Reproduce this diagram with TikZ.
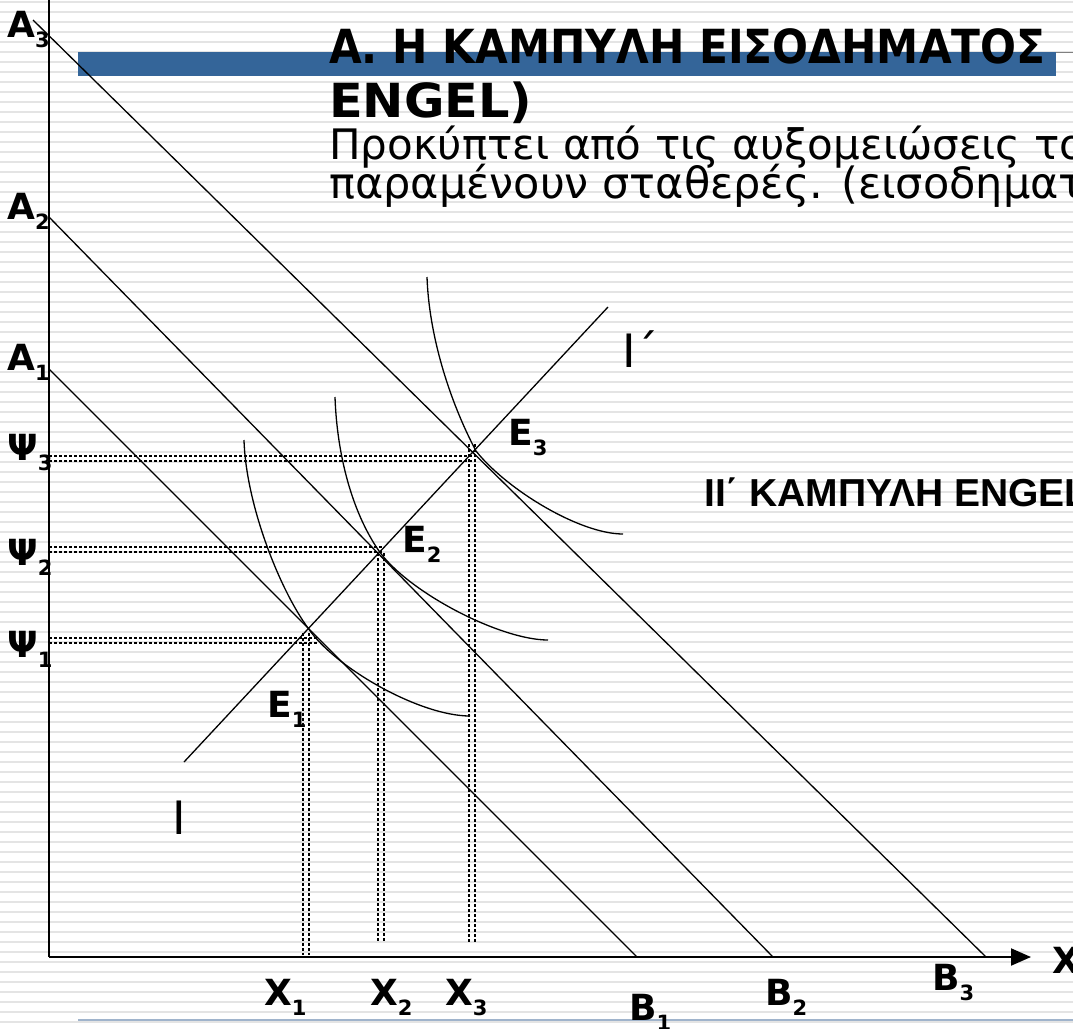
\documentclass[tikz,border=0pt]{standalone}
\usepackage{fontspec}
\setmainfont{DejaVu Sans}
\newfontfamily\arialfont{Liberation Sans}
\usetikzlibrary{arrows.meta}
\definecolor{barblue}{RGB}{52,101,153}
\definecolor{stripegray}{RGB}{228,228,228}
\definecolor{rulecolor}{RGB}{160,180,204}
\newcommand\mysub[1]{{\fontsize{21}{21}\selectfont\raisebox{-10pt}{#1}}}
\tikzset{
  stripe/.style={draw=stripegray,line width=2.2pt},
  axisline/.style={black,line width=2pt},
  budget/.style={black,line width=1.3pt},
  icurve/.style={black,line width=1.3pt},
  dotrow/.style={black,line width=2pt,dash pattern=on 2.5pt off 2.5pt},
  lab/.style={inner sep=0pt,anchor=base west,font=\bfseries\fontsize{36}{36}\selectfont},
  bodytext/.style={inner sep=0pt,anchor=base west,font=\fontsize{42}{42}\selectfont},
  titletext/.style={inner sep=0pt,anchor=base west,font=\bfseries\fontsize{47}{47}\selectfont},
}
\begin{document}
\begin{tikzpicture}[x=1pt,y=-1pt]
\useasboundingbox (0,0) rectangle (1073,1028);
\clip (0,0) rectangle (1073,1028);
\fill[white] (0,0) rectangle (1073,1028);
\foreach \i in {0,...,102} \draw[stripe] (-2,2+10*\i) -- (1075,2+10*\i);

% title bar
\fill[barblue] (78,52) rectangle (1056,76);
\draw[gray,line width=1pt] (1056,52) -- (1080,52);
\node[titletext] (t1) at (329,63) {\scalebox{0.9}[1]{Α. Η ΚΑΜΠΥΛΗ ΕΙΣΟΔΗΜΑΤΟΣ}};
\node[titletext] (t2) at (329,117) {\scalebox{1.05}[1]{ENGEL)}};
\node[bodytext] (b1) at (329,159) {Προκύπτει από τις αυξομειώσεις το};
\node[bodytext,font=\fontsize{43}{43}\selectfont] (b2) at (329,198) {παραμένουν σταθερές. (εισοδηματ};

% bottom line
\draw[draw=rulecolor,line width=2pt] (78,1020) -- (1080,1020);

% axes
\coordinate (O) at (49,957);
\coordinate (Ytop) at (49,-5);
\coordinate (Xend) at (1031,957);
\draw[axisline] (Ytop) -- (O);
\draw[axisline,-{Triangle[length=20pt,width=17pt]}] (O) -- (Xend);

% budget lines
\coordinate (A3s) at (33,20);  \coordinate (B3e) at (986,957);
\coordinate (A2s) at (49,217); \coordinate (B2e) at (773,957);
\coordinate (A1s) at (49,369); \coordinate (B1e) at (637,957);
\draw[budget] (A3s) -- (B3e);
\draw[budget] (A2s) -- (B2e);
\draw[budget] (A1s) -- (B1e);

% income-consumption ray
\coordinate (Rs) at (184,762); \coordinate (Re) at (608,307);
\draw[budget] (Rs) -- (Re);

% equilibrium points
\coordinate (E1) at (308,628);
\coordinate (E2) at (379,551);
\coordinate (E3) at (476,451);

% indifference curves
\coordinate (c1s) at (244,440); \coordinate (c1e) at (470,716);
\coordinate (c2s) at (335,397); \coordinate (c2e) at (548,640);
\coordinate (c3s) at (427,277); \coordinate (c3e) at (623,534);
\draw[icurve] (c1s) .. controls (246,505) and (280,590) .. (E1) .. controls (335,668) and (420,716) .. (c1e);
\draw[icurve] (c2s) .. controls (337,455) and (352,512) .. (E2) .. controls (408,592) and (500,640) .. (c2e);
\draw[icurve] (c3s) .. controls (429,335) and (449,400) .. (E3) .. controls (507,490) and (580,534) .. (c3e);

% dotted guides (double rows)
\foreach \y/\xe in {458.5/474, 549.5/383, 640.5/318} {
  \draw[dotrow] (49,\y-2.6) -- (\xe,\y-2.6);
  \draw[dotrow] (49,\y+2.6) -- (\xe,\y+2.6);
}
\foreach \x/\ys/\ye in {306/633/955, 381/553/942, 472/444/942} {
  \draw[dotrow] (\x-2.6,\ys) -- (\x-2.6,\ye);
  \draw[dotrow] (\x+2.6,\ys) -- (\x+2.6,\ye);
}

% axis labels
\node[lab] (lA3) at (7,37) {A\mysub{3}};
\node[lab] (lA2) at (7,219) {A\mysub{2}};
\node[lab] (lA1) at (7,370) {A\mysub{1}};
\node[lab] (lY3) at (7,460) {Ψ\mysub{3}};
\node[lab] (lY2) at (7,565) {Ψ\mysub{2}};
\node[lab] (lY1) at (7,657) {Ψ\mysub{1}};
\node[lab] (lE3) at (508,445) {E\mysub{3}};
\node[lab] (lE2) at (402,552) {E\mysub{2}};
\node[lab] (lE1) at (267,717) {E\mysub{1}};
\node[lab] (lX1) at (264,1005) {X\mysub{1}};
\node[lab] (lX2) at (370,1005) {X\mysub{2}};
\node[lab] (lX3) at (445,1005) {X\mysub{3}};
\node[lab] (lB1) at (629,1020) {B\mysub{1}};
\node[lab] (lB2) at (765,1005) {B\mysub{2}};
\node[lab] (lB3) at (932,990) {B\mysub{3}};
\node[lab] (lX) at (1052,973) {X};

% curve labels
\node[inner sep=0pt,anchor=base west,font=\fontsize{46}{46}\selectfont] (lI) at (172,834) {Ι};
\node[inner sep=0pt,anchor=base west,font=\fontsize{46}{46}\selectfont] (lIp) at (622,367) {Ι΄};
\node[inner sep=0pt,anchor=base west,font=\arialfont\bfseries\fontsize{39}{39}\selectfont] (leg) at (704,506) {ΙΙ΄ ΚΑΜΠΥΛΗ ENGEL};
\end{tikzpicture}
\end{document}
